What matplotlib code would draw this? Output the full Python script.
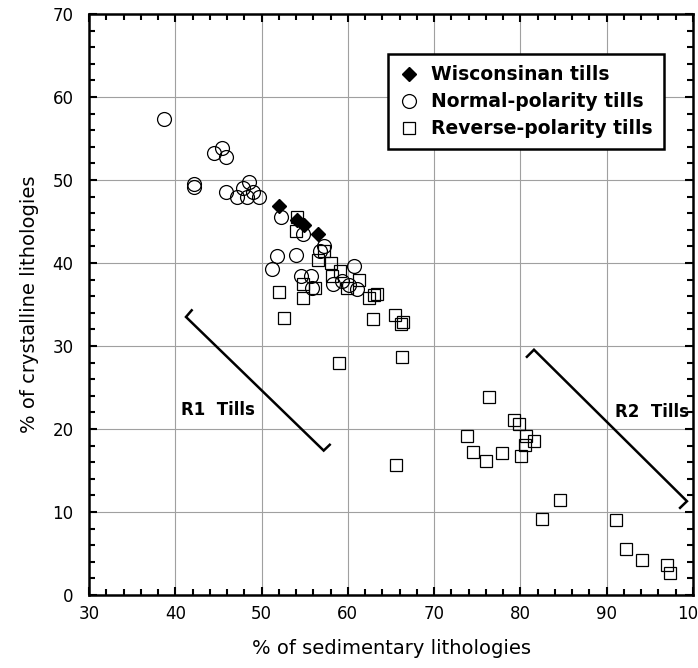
import matplotlib
matplotlib.use("Agg")
import matplotlib.pyplot as plt
from matplotlib.ticker import MultipleLocator

plt.rcParams['font.family'] = ['DejaVu Sans']

# ---- data ----
wisc_x = [52.0, 54.1, 54.9, 56.5]
wisc_y = [46.9, 45.2, 44.6, 43.5]

normal_x = [38.7, 44.5, 45.4, 45.9, 42.2, 42.2, 45.9, 47.1, 47.8, 48.5, 48.3, 49.0, 49.7,
            52.2, 54.8, 57.2, 56.8, 51.8, 51.2, 54.0, 60.7, 54.6, 55.7, 55.8, 58.3, 59.3,
            60.1, 61.1]
normal_y = [57.3, 53.3, 53.9, 52.8, 49.5, 49.2, 48.5, 48.0, 49.0, 49.8, 48.0, 48.6, 48.0,
            45.5, 43.5, 42.0, 41.4, 40.8, 39.3, 41.0, 39.6, 38.4, 38.4, 37.0, 37.5, 37.8,
            37.3, 36.9]

reverse_x = [54.1, 54.0, 57.2, 56.5, 58.0, 59.1, 58.2, 61.3, 59.9, 54.8, 56.2, 54.8, 52.0,
             52.6, 62.4, 63.4, 63.0, 62.9, 65.5, 66.4, 66.2, 59.0, 66.3, 65.6,
             76.3, 79.2, 79.8, 73.8, 80.6, 81.6, 80.5, 74.5, 77.9, 76.0, 80.1, 84.6, 82.5,
             91.1, 92.2, 94.1, 97.0, 97.3]
reverse_y = [45.5, 43.8, 41.5, 40.4, 40.0, 39.0, 38.4, 37.9, 37.0, 37.5, 37.0, 35.8, 36.5,
             33.4, 35.8, 36.3, 36.1, 33.2, 33.7, 32.9, 32.7, 27.9, 28.7, 15.7,
             23.8, 21.1, 20.6, 19.2, 19.2, 18.6, 18.1, 17.2, 17.1, 16.2, 16.8, 11.5, 9.2,
             9.0, 5.5, 4.2, 3.6, 2.7]

labels = ["Wisconsinan tills", "Normal-polarity tills", "Reverse-polarity tills"]

# bracket lines (data coords)
r1_x = [41.9, 41.24, 57.2, 57.9]
r1_y = [34.3, 33.5, 17.4, 18.1]
r2_x = [80.75, 81.57, 99.3, 98.5]
r2_y = [28.7, 29.55, 11.3, 10.5]

fig = plt.figure(figsize=(6.98, 6.68), dpi=100)
ax = fig.add_axes([89/698, 1 - 595/668, (693-89)/698, (595-14)/668])

ax.set_xlim(30, 100)
ax.set_ylim(0, 70)
ax.xaxis.set_major_locator(MultipleLocator(10))
ax.xaxis.set_minor_locator(MultipleLocator(2))
ax.yaxis.set_major_locator(MultipleLocator(10))
ax.yaxis.set_minor_locator(MultipleLocator(2))
ax.grid(True, which='major', color='#a0a0a0', linewidth=0.8, zorder=0)
ax.set_axisbelow(True)

for s in ax.spines.values():
    s.set_linewidth(1.8)
ax.tick_params(which='both', direction='in', top=True, right=True, width=1.5)
ax.tick_params(which='major', length=6)
ax.tick_params(which='minor', length=4)
ax.tick_params(axis='x', which='major', labelsize=12, pad=7)
ax.tick_params(axis='y', which='major', labelsize=12, pad=11)

ax.plot(wisc_x, wisc_y, linestyle='none', marker='D', markersize=7.5,
        color='black', markeredgecolor='black', label=labels[0], zorder=4)
ax.plot(normal_x, normal_y, linestyle='none', marker='o', markersize=10,
        markerfacecolor='none', markeredgecolor='black', markeredgewidth=0.9,
        label=labels[1], zorder=3)
ax.plot(reverse_x, reverse_y, linestyle='none', marker='s', markersize=9,
        markerfacecolor='none', markeredgecolor='black', markeredgewidth=0.9,
        label=labels[2], zorder=3)

ax.plot(r1_x, r1_y, color='black', linewidth=1.8, solid_joinstyle='miter', zorder=5)
ax.plot(r2_x, r2_y, color='black', linewidth=1.8, solid_joinstyle='miter', zorder=5)
ax.text(44.9, 22.3, "R1  Tills", fontsize=12, fontweight='bold', ha='center', va='center')
ax.text(95.2, 22.1, "R2  Tills", fontsize=12, fontweight='bold', ha='center', va='center')

leg = ax.legend(loc='upper left', bbox_to_anchor=(0.495, 0.931), fancybox=False,
                framealpha=1, edgecolor='black', prop={'weight': 'bold', 'size': 13.5},
                handlelength=1.0, handletextpad=0.7, labelspacing=0.42,
                borderpad=0.6, borderaxespad=0)
leg.get_frame().set_linewidth(1.8)

ax.set_xlabel("% of sedimentary lithologies", fontsize=14, labelpad=12)
ax.set_ylabel("% of crystalline lithologies", fontsize=14, labelpad=10)

fig.savefig("out.png", dpi=100)
